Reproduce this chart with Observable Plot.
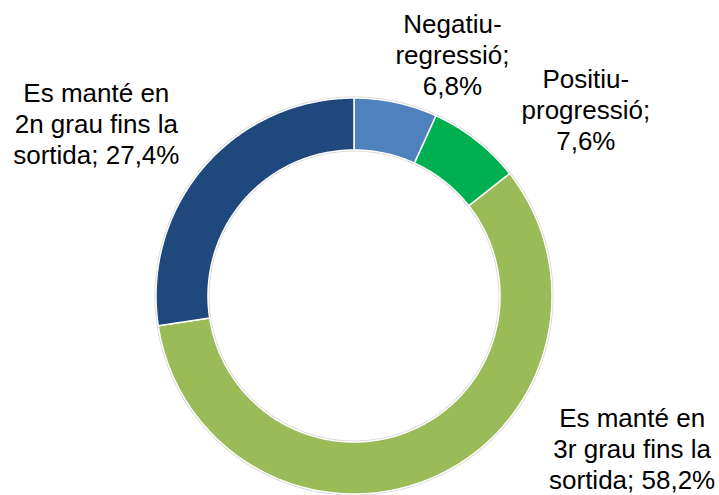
<!DOCTYPE html>
<html><head><meta charset="utf-8">
<script src="https://cdn.jsdelivr.net/npm/d3@7"></script>
<script src="https://cdn.jsdelivr.net/npm/@observablehq/plot@0.6"></script>
<style>html,body{margin:0;padding:0;background:#fff}</style>
</head><body><div id="chart"></div>
<script>
const categories = ["Negatiu-regressió", "Positiu-progressió", "Es manté en 3r grau fins la sortida", "Es manté en 2n grau fins la sortida"];
const values = [6.8, 7.6, 58.2, 27.4];
const labelTexts = ["Negatiu-\nregressió;\n6,8%", "Positiu-\nprogressió;\n7,6%", "Es manté en\n3r grau fins la\nsortida; 58,2%", "Es manté en\n2n grau fins la\nsortida; 27,4%"];
const colors = ["#4F81BD", "#00B050", "#9BBB59", "#1F497D"];

// layout (pixels)
const W = 719, H = 495, CX = 354, CY = 296, R = 198, RI = 146;
const labelOffsets = [[56, -49], [109, -32], [199, -30], [-108, -44]];

const arcs = d3.pie().sort(null).value(d => d)(values);
const inner = RI / R;
const pts = [];
const shadow = [];
arcs.forEach((a, i) => {
  const n = Math.max(8, Math.ceil((a.endAngle - a.startAngle) * 80));
  for (let k = 0; k <= n; k++) {
    const t = a.startAngle + (a.endAngle - a.startAngle) * k / n;
    pts.push({cat: categories[i], x1: Math.sin(t), y1: Math.cos(t), x2: Math.sin(t) * inner, y2: Math.cos(t) * inner});
  }
});
for (let k = 0; k <= 400; k++) {
  const t = 2 * Math.PI * k / 400;
  const ro = (R + 1.5) / R, ri = (RI - 1.5) / R;
  shadow.push({x1: Math.sin(t) * ro, y1: Math.cos(t) * ro, x2: Math.sin(t) * ri, y2: Math.cos(t) * ri});
}
const labels = arcs.map((a, i) => {
  const m = (a.startAngle + a.endAngle) / 2;
  return {
    text: labelTexts[i],
    x: Math.sin(m) + labelOffsets[i][0] / R,
    y: Math.cos(m) - labelOffsets[i][1] / R
  };
});

const chart = Plot.plot({
  width: W, height: H,
  margin: 0,
  x: {domain: [-CX / R, (W - CX) / R], axis: null},
  y: {domain: [-(H - CY) / R, CY / R], axis: null},
  color: {domain: categories, range: colors},
  style: {fontFamily: "'Liberation Sans', Arial, sans-serif", background: "#fff"},
  marks: [
    Plot.area(shadow, {x1: "x1", y1: "y1", x2: "x2", y2: "y2", fill: "#d4d4d4"}),
    Plot.area(pts, {x1: "x1", y1: "y1", x2: "x2", y2: "y2", z: "cat", fill: "cat", stroke: "white", strokeWidth: 1.5}),
    Plot.text(labels, {x: "x", y: "y", text: "text", fontSize: 26, lineHeight: 1.19, lineAnchor: "middle", textAnchor: "middle", fill: "#000"})
  ]
});
document.getElementById("chart").appendChild(chart);
</script>
</body></html>
